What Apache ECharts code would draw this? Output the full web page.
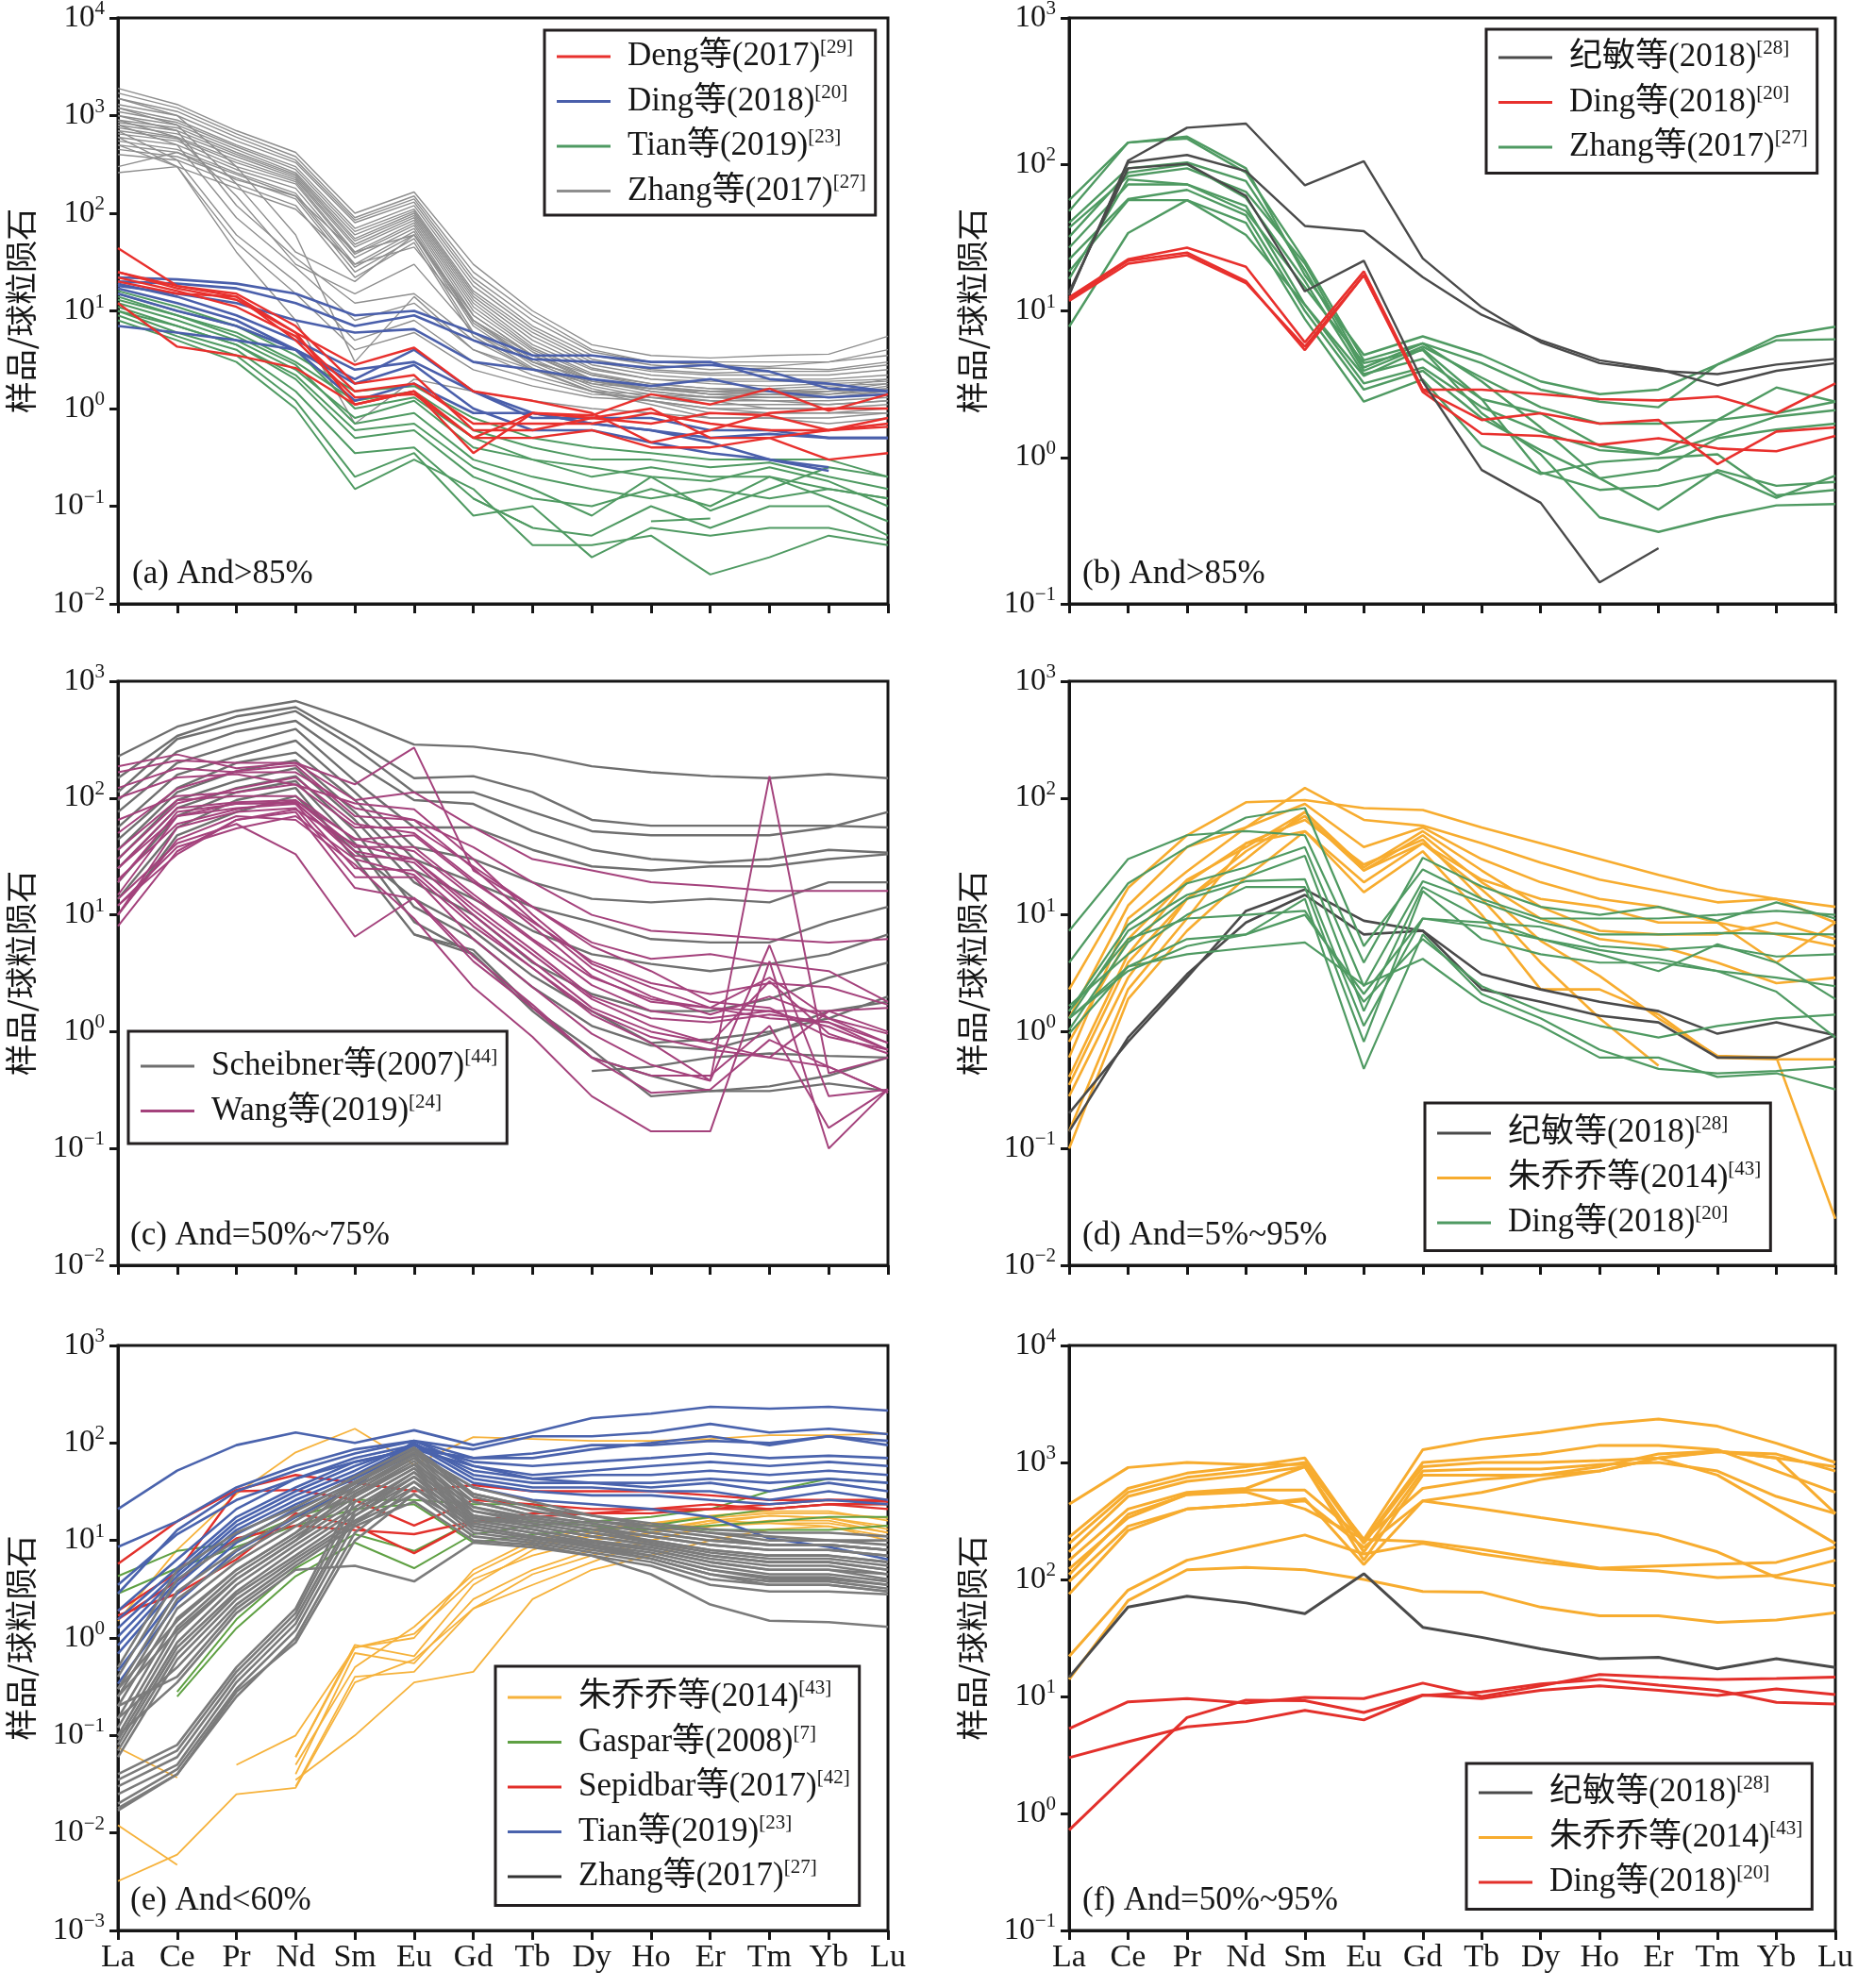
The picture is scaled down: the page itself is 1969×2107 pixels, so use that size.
<!DOCTYPE html>
<html><head><meta charset="utf-8">
<script src="https://cdn.jsdelivr.net/npm/echarts@6/dist/echarts.min.js"></script>
<style>html,body{margin:0;padding:0;background:#fff}#c{width:1969px;height:2107px}</style>
</head><body><div id="c"></div>
<script>
// ---------- categories ----------
const REE = ['La','Ce','Pr','Nd','Sm','Eu','Gd','Tb','Dy','Ho','Er','Tm','Yb','Lu'];
const Y_TITLE = '样品/球粒陨石';
const PANEL_LABELS = ['(a) And>85%','(b) And>85%','(c) And=50%~75%','(d) And=5%~95%','(e) And<60%','(f) And=50%~95%'];
const Y_MIN = [0.01, 0.1, 0.01, 0.01, 0.001, 0.1];
const Y_MAX = [10000, 1000, 1000, 1000, 1000, 10000];

// ---------- panel (a) ----------
const A_ZHANG = [
[1900,1300,700,420,100,165,30,10,4.5,3.5,3.3,3.5,3.6,5.5],
[1700,1200,650,380,90,150,25,9,4,3,3,3,3,4],
[1500,1100,600,350,85,140,22,8,3.8,3,2.8,2.7,3,3.5],
[1300,1000,550,330,80,130,20,7,3.5,2.8,2.5,2.6,2.5,3],
[1200,900,500,300,70,120,18,6.5,3.2,2.5,2.3,2.4,2.4,2.8],
[1100,850,480,280,65,110,16,6,3,2.4,2.2,2.2,2.2,2.5],
[1000,800,450,260,60,105,15,5.5,2.8,2.2,2,2,2,2.2],
[900,750,420,250,55,100,14,5,2.6,2,1.9,1.9,1.9,2],
[850,700,400,240,52,95,13,4.5,2.5,2,1.8,1.7,1.8,1.9],
[800,650,380,230,48,90,12,4.2,2.3,1.8,1.6,1.6,1.7,1.8],
[750,600,350,220,45,85,11,4,2.2,1.7,1.5,1.5,1.5,1.6],
[700,580,330,210,40,80,10,3.8,2,1.6,1.4,1.4,1.4,1.5],
[650,550,300,200,38,75,9,3.5,1.9,1.5,1.3,1.3,1.3,1.4],
[600,500,280,180,35,70,8,3.2,1.8,1.4,1.2,1.2,1.2,1.3],
[550,450,260,160,30,65,7.5,3,1.7,1.3,1.1,1.1,1.1,1.2],
[500,420,250,150,28,60,7,2.8,1.6,1.2,1,1,1,1.1],
[450,380,230,140,25,55,6,2.6,1.5,1.2,0.9,0.9,0.9,1],
[400,350,200,120,22,50,5.5,2.5,1.5,1.1,0.8,0.8,0.8,0.9],
[300,420,220,150,40,60,9,3.5,2,1.6,1.4,1.5,1.6,2],
[260,300,180,110,30,45,8,3,2,1.5,1.3,1.4,1.5,1.8],
[1000,700,120,35,12,15,5,2.5,1.8,1.6,1.5,1.4,1.3,1.5],
[800,500,90,28,8,12,4,2.2,1.5,1.4,1.3,1.2,1.1,1.2],
[700,350,60,20,5,8,3,2,1.4,1.3,1.2,1,1,1],
[600,300,50,15,4,6,2.5,1.7,1.3,1.2,1,0.9,0.9,0.9],
[1200,800,200,40,20,60,8,3.5,2.2,1.8,1.6,1.5,1.4,1.6],
[900,600,150,30,15,30,6,3,2,1.7,1.4,1.3,1.3,1.4],
[1500,1000,300,60,3,14,4,2.5,1.9,1.6,1.5,1.6,1.4,1.7],
[500,300,40,8,0.7,2,1.5,1.2,1,0.9,0.8,0.8,0.7,0.8]
];
const A_TIAN = [
[15,10,7,3.5,1.5,1.7,0.8,0.5,0.4,0.35,0.3,0.3,0.3,0.2],
[14,9,6,3,1.2,1.5,0.6,0.4,0.3,0.3,0.25,0.28,0.2,0.15],
[12,8,5,2.5,0.8,1.2,0.4,0.3,0.25,0.2,0.18,0.25,0.18,0.1],
[11,7,4.5,2,0.5,0.6,0.2,0.12,0.1,0.15,0.1,0.2,0.12,0.07],
[10,6,4,1.5,0.35,0.4,0.12,0.06,0.05,0.1,0.06,0.1,0.1,0.05],
[9,5.5,3.5,1.2,0.2,0.35,0.08,0.1,0.03,0.06,0.05,0.06,0.06,0.045],
[8,5,3,1,0.15,0.3,0.15,0.04,0.04,0.05,0.02,0.03,0.05,0.04],
[13,9,5.5,2.8,0.7,0.9,0.3,0.2,0.15,0.12,0.15,0.12,0.15,0.12],
[10,7,4.5,2.2,0.6,0.7,0.25,0.15,0.08,0.2,0.09,0.15,0.25,0.2],
[16,11,7,4,1,1.3,0.5,0.3,0.2,0.25,0.2,0.2,0.15,0.12],
[null,null,null,null,null,null,0.12,0.06,null,null,null,null,null,null],
[null,null,null,null,null,null,null,null,null,0.07,0.075,null,null,null]
];
const A_DING = [
[22,21,19,15,9,10,6,3.5,3.5,3,3,2,1.8,1.5],
[20,19,17,12,7,9,5,3.2,3,2.6,2.8,2.4,1.6,1.5],
[18,15,12,8,6,6.5,3,2.5,2,1.7,2,1.5,1.3,1.4],
[7,6,5,4,2,4,1.5,0.9,0.7,0.6,0.45,0.3,0.23,null],
[15,10,7,4,1.8,2.8,1,0.6,0.6,0.45,0.35,0.3,0.25,null],
[17,12,8,4,1.2,1.8,0.9,0.9,0.7,0.6,0.5,0.55,0.5,0.5],
[19,14,9,5,2.5,3,1.5,0.8,0.8,0.8,0.6,0.6,0.5,0.5]
];
const A_DENG = [
[44,18,14,6,1.1,1.5,0.35,0.9,0.85,1.4,1.1,1.6,0.95,1.4],
[25,18,15,7,1.8,2.2,0.6,0.6,0.8,0.7,0.9,0.85,0.6,0.8],
[25,17,13,6,2.8,4.2,1.5,1.2,0.9,0.45,0.6,0.9,1,1],
[12,4.3,3.5,2.6,1.1,1.5,0.5,0.5,0.6,0.4,0.4,0.5,0.3,0.35],
[20,15,14,5,1.3,1.4,0.5,0.9,0.8,1,0.5,0.5,0.6,0.7],
[22,16,11,5.5,1.5,1.8,0.7,0.7,0.7,0.9,0.7,0.6,0.6,0.65]
];

// ---------- panel (b) ----------
const B_ZHANG = [
[57,141,155,94,17.5,5,6.7,5,3.3,2.7,2.9,4.3,6.7,7.8],
[48,141,150,88,22,4.6,6,4.4,2.9,2.4,2.2,4.3,6.3,6.4],
[40,94,103,77,19,3.9,5.7,3.5,2.2,1.7,1.7,1.8,3,2.4],
[32,88,100,59,16,3.7,4.7,2.5,2,1.2,1.05,1.4,1.9,2.1],
[27,73,73,52,11,3.2,4.1,2.2,1.5,1.12,1.05,1.8,2,2.4],
[22.5,58,67,45,10,2.9,3.9,1.85,1.12,0.72,0.82,1.35,1.55,1.7],
[18.6,57,57,40,8.8,2.4,3.4,1.2,0.77,0.93,0.99,1.05,0.55,0.6],
[7.8,34,57,33,11,3.6,5.5,2.5,0.79,0.6,0.64,0.79,0.53,0.75],
[16.5,79,73,48,14.5,4.4,5.4,2,1.05,0.39,0.31,0.39,0.47,0.48],
[37,83,94,65,21,4.1,6,3.3,1.6,0.72,0.44,0.82,0.64,0.68]
];
const B_DING = [
[12.4,22.5,27,20,6.1,18.6,2.9,2.9,2.7,2.5,2.45,2.6,2,3.2],
[12,22,25,16,5.4,17.5,2.9,1.8,2,1.7,1.8,0.9,1.5,1.6],
[11.7,21,24,15.5,5.7,17.5,2.8,1.45,1.4,1.22,1.35,1.15,1.1,1.4]
];
const B_JIMIN = [
[12.8,106,178,190,72,105,22.8,10.6,6.1,4.4,3.9,3.7,4.3,4.7],
[13,103,116,90,38,35,17,9.4,6.3,4.6,4,3.1,3.9,4.4],
[13.5,94,101,61,13.6,22,3.3,0.82,0.49,0.14,0.24,null,null,null]
];

// ---------- panel (c) ----------
const C_SCHEIBNER = [
[227,408,557,677,458,287,275,237,187,166,154,148,160,148],
[148,340,500,600,310,148,154,112,65,58,58,58,58,56],
[112,320,430,555,270,112,112,76,52,48,48,48,56,76],
[96,250,370,458,200,96,89,52,36,30,28,30,36,34],
[76,200,286,390,140,56,56,36,26,24,26,26,30,33],
[56,158,227,310,112,38,30,19,13.7,12.8,13.7,12.8,19,19],
[44,122,200,245,96,30,19,11.7,8.7,6.2,5.8,5.8,8.7,11.7],
[36,112,170,210,76,24,13.7,7.3,4.6,3.8,3.3,3.8,4.6,6.8],
[30,96,140,180,65,19,10,3.9,2.1,1.5,1.5,1.9,2.9,3.9],
[25,82,122,154,52,11.7,6.2,2.4,1.12,0.76,0.7,0.96,1.5,1.8],
[19,70,112,140,41,8.7,4.6,1.5,0.6,0.42,0.31,0.34,0.42,0.6],
[13.7,56,96,122,30,6.8,5,1.6,0.7,0.28,0.31,0.31,0.36,0.31],
[10,48,76,104,35,13.7,7.3,3,1.5,0.8,0.86,1,1.3,2],
[null,null,null,null,null,6.8,4.6,null,null,null,null,null,null,null],
[null,null,null,null,null,null,null,null,0.46,0.5,0.6,0.65,0.62,0.6]
];
const C_WANG = [
[187,236,180,200,131,270,24,11.7,5.4,3.3,1.8,1.6,0.9,0.7],
[166,210,200,200,96,112,56,30,24,19,17.7,16,16,16],
[122,180,166,166,82,65,38,19,10,7.3,6.8,6.2,5.8,6.2],
[65,104,112,131,56,56,26,11.7,5.8,4.2,4.6,3.8,3.3,1.8],
[36,96,104,104,44,48,19,8.7,4,2.6,2.1,2.6,2.4,1.7],
[25,82,92,96,38,38,15,6.2,2.9,1.9,1.6,2.9,1.3,0.96],
[19,76,89,92,32,30,11,4.6,1.9,1.12,0.8,2.7,0.96,0.65],
[14.8,70,82,89,25,24,8.7,3.5,1.4,0.8,0.38,154,0.44,0.6],
[10,56,76,82,21,21,6.2,2.4,0.96,0.52,0.38,5.5,0.28,0.32],
[12,33,65,76,17,13.7,4,1.6,0.6,0.42,0.42,1.12,0.15,0.32],
[13.7,41,60,33,6.5,14,4.4,1.7,0.6,0.3,0.32,0.85,0.5,0.3],
[10,44,70,65,27,9.3,2.4,0.9,0.28,0.14,0.14,4,0.1,0.32],
[8,35,65,80,40,30,12,5,2,1.3,1.2,1.4,1.2,0.8],
[20,60,80,95,45,35,14,6,2.5,1.5,1.3,1.5,1.1,0.7],
[30,90,120,150,60,50,20,8,3,1.8,1.6,1.5,1.5,1],
[50,120,170,190,70,65,25,9,3.5,2,1.4,2,1.3,0.8],
[100,150,160,130,90,80,30,10,3.8,2.4,1.6,1.3,1.2,0.7],
[12,38,55,70,30,22,8,3.5,1.5,0.9,0.7,0.6,1.5,1.6],
[25,70,90,90,35,28,10,4,1.6,1,0.8,0.6,0.5,0.3]
];

// ---------- panel (d) ----------
const D_ZHU = [
[2.3,17,48,92,96,82,79,56,41,30,22,16.5,13.7,11.7],
[1.3,12,38,56,122,65,58,41,28,20,16,12.8,13.7,8.6],
[0.6,9.3,23.6,56,89,38,56,30,19,13.7,11.7,8.6,6.8,5.4],
[0.82,6.2,20,38,76,25.5,52,24,11.7,7.3,6.8,6.8,8.6,6.2],
[0.28,2.9,13.7,35,70,24,48,19,9.3,6.2,5.4,3.9,2.6,2.9],
[0.1,1.9,7.3,21,52,15.6,35,10,2.3,2.3,1.4,0.6,0.58,0.58],
[0.41,4.6,19,41,65,27,44,13.7,3.9,1.3,0.51,null,null,null],
[0.35,3.9,13.7,30,76,24,41,16.5,6,3,1.3,0.62,0.6,0.025],
[0.14,2.3,9.3,41,52,19,41,20,13.7,11.7,8.6,8.6,3.9,8.6]
];
const D_JIMIN = [
[0.2,0.82,2.9,10.8,16.5,8.9,7.3,3.1,2.3,1.8,1.5,0.96,1.2,0.93],
[0.14,0.89,3.1,8.6,14.8,6.8,7.3,2.3,1.8,1.37,1.2,0.6,0.6,0.93]
];
const D_DING = [
[7.3,30,48,52,48,3.9,30.8,17.5,11.7,10,11.7,8.9,12.8,9.3],
[3.9,18.6,38,68,82,5.4,24.5,13.7,9.3,9.3,9.3,10,10.8,10],
[1.5,8.2,18.6,25.5,38,2.45,19.4,12.8,8.6,6.8,6.8,7,6.9,6.8],
[1.3,7.3,14.8,21,32,1.5,17.3,9.3,6.2,4.6,3.3,5.6,3.9,1.9],
[1.04,5.8,13.7,19.4,20.2,1.12,9.3,8.6,7.9,5.4,5,5.4,4.4,4.6],
[1.66,4.6,10,17.3,17.3,0.82,16,6.2,4.6,3.9,3.9,3.3,2.9,2.45],
[1.3,3.3,5.4,6.8,13.7,0.48,6.8,2.1,1.3,0.7,0.48,0.44,0.46,0.5],
[0.96,3.6,4.6,5.2,5.8,2.5,4.2,1.8,1.12,0.6,0.6,0.41,0.44,0.32],
[1.5,6.2,9.3,10,10.8,1.8,6.2,2.45,1.5,1.12,0.89,1.12,1.3,1.4],
[1.3,3.6,6.2,6.8,10,2.1,9.3,7.9,6.2,5,4.2,3.3,2.2,0.89]
];

// ---------- panel (e) ----------
const E_ZHU = [
[0.075,0.037,null,null,null,null,null,null,null,null,null,null,null,null],
[0.012,0.0047,null,null,null,null,null,null,null,null,null,null,null,null],
[0.0032,0.006,0.025,0.029,0.35,0.6,2,3.5,6,10,14,15,15,12],
[null,null,0.05,0.1,0.8,1.1,4,7,10,12,15,18,17,14],
[null,null,null,0.06,0.85,0.65,3.5,8,12,15,18,20,20,16],
[null,null,null,0.04,0.7,0.55,2.5,5,8,12,16,18,17,13],
[null,null,null,0.03,0.4,0.45,2,4.5,7,10,14,16,16,12],
[null,null,null,0.035,0.1,0.35,0.45,2.5,5,7,10,13,14,11],
[null,null,null,0.05,0.5,1.3,4.5,9,11,13,16,15,14,10],
[1.5,8,30,80,140,60,115,110,105,105,110,120,120,125],
[null,null,null,0.06,0.8,1,5,10,13,15,17,19,19,17]
];
const E_GASPAR = [
[null,0.25,1.26,4.3,9.5,5.2,11.6,14.2,15.7,17.4,21,32,43,39],
[4.3,7.8,9.5,17.4,26,26,23.5,23.5,15.7,14.2,12.8,12.8,12.8,14.2],
[null,0.28,1.55,5.2,11.6,7.8,15.7,15.7,14.2,12.8,14.2,15.7,17.4,17.4],
[2.85,5.2,8.6,14.2,21,23.5,9.5,11.6,12.8,14.2,17.4,21,23.5,23.5]
];
const E_SEPIDBAR = [
[5.75,15.7,33,47,39,32,37,32,32,32,29,26,26,26],
[1.9,4.7,32,33,26,14.2,26,23.5,21,21,23.5,21,23.5,23.5],
[1.7,2.85,6.4,19,14.2,7.4,15.7,19,19,21,21,23.5,26,25],
[1.55,3.85,10.5,14.2,12.8,11.6,15.7,17.4,19,19,21,21,23.5,21]
];
const E_TIAN = [
[21,52,95,128,100,135,95,128,180,200,235,225,235,215],
[8.6,15.7,35,58,86,105,86,117,117,128,157,128,140,123],
[2.85,12.8,32,52,78,105,70,70,86,100,117,95,117,95],
[1.9,6.4,21,43,70,95,64,58,64,70,78,70,74,70],
[1.55,5.2,17.4,35,64,86,58,47,52,58,64,58,64,58],
[1.26,4.7,15.7,32,58,95,52,43,47,47,52,47,52,47],
[1.03,4.3,14.2,29,52,100,47,39,39,35,39,32,39,32],
[0.84,3.85,12.8,26,47,95,43,35,35,32,32,26,32,26],
[0.69,3.5,11.6,23.5,43,86,39,32,29,29,26,23.5,26,23.5],
[0.46,2.85,9.5,21,39,78,35,26,23.5,21,17.4,10.5,8.6,6.4],
[0.34,2.3,7.8,17.4,35,105,58,43,39,39,43,39,43,39],
[3.5,11.6,26,43,64,86,70,78,95,95,105,100,117,105]
];
const E_ZHANG = [
[0.5,5,12,22,45,90,30,22,18,15,13,12,12,11],
[0.4,4,10,20,40,85,28,20,16,14,12,11,10,10],
[0.3,3,8,18,38,80,25,18,15,12,10,9,9,8],
[0.25,2.5,7,16,35,75,22,17,14,11,9,8,8,7],
[0.2,2,6,14,32,70,20,16,13,10,8,7,7,6],
[0.15,1.6,5,12,30,65,18,15,12,9.5,7.5,6.5,6.5,5.5],
[0.12,1.3,4.5,11,28,60,17,14,11,9,7,6,6,5],
[0.1,1.1,4,10,25,55,16,13,10,8.5,6.5,5.5,5.5,4.5],
[0.09,0.9,3.5,9,22,50,15,12,9.5,8,6,5,5,4],
[0.08,0.8,3,8,20,45,14,11,9,7.5,5.5,4.5,4.5,3.8],
[0.07,0.7,2.8,7,18,40,13,10.5,8.5,7,5,4.2,4.2,3.5],
[0.06,0.6,2.5,6.5,16,35,12,10,8,6.5,4.5,3.8,3.8,3.2],
[0.15,0.5,2.2,6,15,30,11,9.5,7.5,6,4,3.5,3.5,3],
[0.2,0.4,2,5.5,14,25,10,9,7,5.5,3.5,3,3,2.8],
[0.1,0.35,1.8,5,5.5,3.8,9.5,8.5,7,4.5,2.2,1.5,1.45,1.3],
[0.04,0.08,0.5,2,30,60,25,18,15,12,10,9,9,8],
[0.035,0.07,0.45,1.8,25,55,22,16,13,11,9,8,8,7],
[0.03,0.06,0.4,1.6,20,50,20,15,12,10,8,7,7,6],
[0.025,0.05,0.35,1.4,18,45,18,14,11,9,7,6,6,5],
[0.02,0.045,0.3,1.2,15,40,16,13,10,8,6,5,5,4.5],
[0.017,0.04,0.25,1,12,35,15,12,9,7,5,4,4,3.5],
[0.018,0.04,0.28,0.9,10,30,14,11,8.5,6.5,4.5,3.5,3.5,3],
[0.3,1.5,5,12,40,80,35,25,18,14,12,10,10,9],
[0.25,1.2,4,10,35,70,30,22,16,13,11,9,9,8]
];

// ---------- panel (f) ----------
const F_ZHU = [
[440,905,1000,960,960,220,1285,1580,1800,2120,2350,2040,1460,1000],
[230,600,810,920,1090,212,1000,1090,1180,1400,1400,1285,845,555],
[203,556,745,845,1000,203,920,1000,1000,1040,1090,1230,1180,845],
[172,512,690,780,920,172,845,880,880,960,1000,845,512,366],
[146,400,555,600,920,146,780,780,780,845,1090,780,400,203],
[123,337,533,580,580,220,600,715,780,920,1180,1250,1090,920],
[96,285,400,433,470,188,470,555,715,845,1090,1250,1090,366],
[75,262,400,433,490,134,470,400,337,285,240,172,104,88],
[22,81,146,187,240,165,203,165,140,123,118,104,108,146],
[14,66,121,127,121,100,79,78,58,49,49,43,45,52],
[110,360,530,560,400,220,210,180,150,125,130,135,140,190]
];
const F_JIMIN = [
[14.6,58,72,63,51,112,39,32,25.5,21,21.6,17.2,21,17.7]
];
const F_DING = [
[5.3,9,9.6,8.8,9.8,9.6,13,10,12.3,15.4,14.6,14,14.2,14.6],
[3,4.1,5.5,6.1,7.6,6.3,10.2,10.9,12.8,14,12.5,11.3,8.9,8.6],
[0.72,2.2,6.6,9.3,9.2,7.3,10.3,9.6,11.3,12.3,11.3,10.2,11.6,10.4]
];

// ---------- legend labels ----------
const L_DENG = 'Deng等(2017)|[29]';
const L_DING = 'Ding等(2018)|[20]';
const L_TIAN = 'Tian等(2019)|[23]';
const L_ZHANG = 'Zhang等(2017)|[27]';
const L_JIMIN = '纪敏等(2018)|[28]';
const L_SCH = 'Scheibner等(2007)|[44]';
const L_WANG = 'Wang等(2019)|[24]';
const L_ZHU = '朱乔乔等(2014)|[43]';
const L_GASPAR = 'Gaspar等(2008)|[7]';
const L_SEP = 'Sepidbar等(2017)|[42]';

// ---------- build ----------
const SERIF = "'Liberation Serif','Times New Roman','Noto Sans CJK SC',serif";
const INK = '#161616';
const GRIDS = [
  {left:125, top:19, width:816, height:621},
  {left:1133, top:19, width:812, height:621},
  {left:125, top:722, width:816, height:619},
  {left:1133, top:722, width:812, height:619},
  {left:125, top:1426, width:816, height:620},
  {left:1133, top:1426, width:812, height:620}
];
const series = [];
function addGroup(g, label, color, width, lines) {
  const name = label + '|' + g;
  lines.forEach(d => series.push({
    type:'line', name, xAxisIndex:g, yAxisIndex:g, data:d,
    symbol:'none', showSymbol:false, connectNulls:false, silent:true,
    lineStyle:{color, width}, itemStyle:{color}, emphasis:{disabled:true}
  }));
  return name;
}
const C = {
  red:'#e8302d', blue:'#4a5fab', green:'#4f9a62', gray:'#8e8e8e', dark:'#4a4a4a',
  gray2:'#6f6f6f', mag:'#a4427c', orange:'#f7ac2f', green2:'#5fa043', blue2:'#4a63ad', gray3:'#7b7b7b'
};
// (a)
const aZ = addGroup(0, L_ZHANG, C.gray, 1.4, A_ZHANG);
const aT = addGroup(0, L_TIAN, C.green, 2, A_TIAN);
const aDi = addGroup(0, L_DING, C.blue, 2.6, A_DING);
const aDe = addGroup(0, L_DENG, C.red, 2.4, A_DENG);
// (b)
const bZ = addGroup(1, L_ZHANG, C.green, 2.4, B_ZHANG);
const bD = addGroup(1, L_DING, C.red, 2.6, B_DING);
const bJ = addGroup(1, L_JIMIN, C.dark, 2.4, B_JIMIN);
// (c)
const cS = addGroup(2, L_SCH, C.gray2, 2.4, C_SCHEIBNER);
const cW = addGroup(2, L_WANG, C.mag, 2, C_WANG);
// (d)
const dZ = addGroup(3, L_ZHU, C.orange, 2.6, D_ZHU);
const dJ = addGroup(3, L_JIMIN, C.dark, 2.6, D_JIMIN);
const dD = addGroup(3, L_DING, C.green, 2.2, D_DING);
// (e)
const eZh = addGroup(4, L_ZHU, '#f6b23b', 1.8, E_ZHU);
const eG = addGroup(4, L_GASPAR, C.green2, 2, E_GASPAR);
const eS = addGroup(4, L_SEP, '#e2302b', 2.4, E_SEPIDBAR);
const eT = addGroup(4, L_TIAN, C.blue2, 2.6, E_TIAN);
const eZ = addGroup(4, L_ZHANG, C.gray3, 2.6, E_ZHANG);
// (f)
const fZ = addGroup(5, L_ZHU, C.orange, 3, F_ZHU);
const fJ = addGroup(5, L_JIMIN, C.dark, 3, F_JIMIN);
const fD = addGroup(5, L_DING, '#e3302b', 3, F_DING);

function supLabel(v) {
  const e = Math.round(Math.log10(v));
  return '{b|10}{e|' + (e < 0 ? '\u2212' + (-e) : e) + '}';
}
const xAxis = GRIDS.map((g, i) => ({
  type:'category', gridIndex:i, data:REE, boundaryGap:false,
  axisLine:{show:true, lineStyle:{color:INK, width:3}},
  axisTick:{show:true, length:10, interval:0, alignWithLabel:true, lineStyle:{color:INK, width:3}},
  axisLabel:{show:i >= 4, interval:0, margin:12, hideOverlap:false, fontFamily:SERIF, fontSize:34, color:INK},
  splitLine:{show:false}
}));
const yAxis = GRIDS.map((g, i) => ({
  type:'log', logBase:10, gridIndex:i, min:Y_MIN[i], max:Y_MAX[i], splitNumber:10,
  axisLine:{show:true, lineStyle:{color:INK, width:3}},
  axisTick:{show:true, length:9, lineStyle:{color:INK, width:3}},
  minorTick:{show:false}, splitLine:{show:false},
  axisLabel:{show:true, margin:14, showMinLabel:true, showMaxLabel:true, hideOverlap:false, formatter:supLabel,
    rich:{b:{fontFamily:SERIF, fontSize:33, lineHeight:40, color:INK},
          e:{fontFamily:SERIF, fontSize:21, lineHeight:22, verticalAlign:'top', color:INK}}},
  name:Y_TITLE, nameLocation:'middle', nameRotate:90, nameGap:86,
  nameTextStyle:{fontFamily:"'Noto Sans CJK SC',sans-serif", fontSize:34, color:INK}
}));
const legRich = {
  n:{fontFamily:SERIF, fontSize:35, lineHeight:40, color:INK, padding:[0,0,0,13]},
  s:{fontFamily:SERIF, fontSize:21, lineHeight:22, verticalAlign:'top', color:INK}
};
function legend(left, top, pad, names) {
  return {
    orient:'vertical', left, top, padding:pad, itemGap:10, itemWidth:57, itemHeight:3,
    icon:'rect', borderColor:'#231f20', borderWidth:3, backgroundColor:'#fff',
    selectedMode:false, data:names,
    formatter:n => { const p = n.split('|'); return '{n|' + p[0] + '}{s|' + p[1] + '}'; },
    textStyle:{rich:legRich}
  };
}
const titles = [[140,591],[1147,591],[138,1292],[1147,1292],[138,1997],[1147,1997]].map((p, i) => ({
  text:PANEL_LABELS[i], left:p[0], top:p[1], padding:0,
  textStyle:{fontFamily:SERIF, fontSize:35, fontWeight:'normal', color:INK}
}));

const chart = echarts.init(document.getElementById('c'), null, {renderer:'canvas'});
chart.setOption({
  animation:false,
  backgroundColor:'#fff',
  title:titles,
  grid:GRIDS.map(g => Object.assign({show:true, borderColor:INK, borderWidth:3, backgroundColor:'transparent', containLabel:false, outerBoundsMode:'none'}, g)),
  xAxis, yAxis,
  legend:[
    legend(577, 32, [8,10,8,13], [aDe, aDi, aT, aZ]),
    legend(1575, 31, [10,10,10,13], [bJ, bD, bZ]),
    legend(136, 1093, [17,10,17,13], [cS, cW]),
    legend(1510, 1169, [12,10,12,13], [dJ, dZ, dD]),
    legend(525, 1766, [13,10,13,13], [eZh, eG, eS, eT, {name:eZ, itemStyle:{color:'#333333'}}]),
    legend(1554, 1869, [11,10,11,13], [fJ, fZ, fD])
  ],
  series
});
</script>
</body></html>
